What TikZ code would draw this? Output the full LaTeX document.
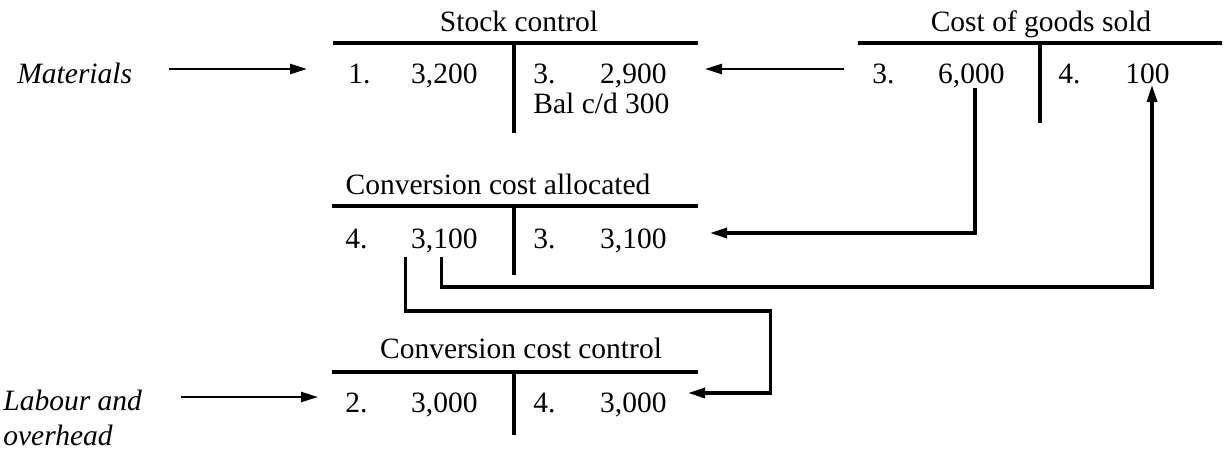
\documentclass[tikz,border=0pt]{standalone}
\usepackage{fontspec}
\setmainfont{Liberation Serif}
\usepackage{tikz}
\usetikzlibrary{arrows.meta}

\begin{document}
\begin{tikzpicture}[x=0.5pt,y=-0.5pt,
	every node/.style={inner sep=0pt,font=\fontsize{14.75}{17.7}\selectfont},
	entry/.style={anchor=base west},
	amount/.style={anchor=base east},
	title/.style={anchor=base},
	source/.style={anchor=base west,font=\fontsize{14.75}{17.7}\selectfont\itshape},
	tline/.style={line width=2pt},
	flow/.style={line width=1.2pt,-{Triangle[length=8.5pt,width=5pt]}},
	route/.style={line width=1.6pt,-{Triangle[length=8.5pt,width=5pt]}}]
	\useasboundingbox (0,0) rectangle (1225,450);
	% stock control
	\node[title] (tsc) at (519,31) {Stock control};
	\draw[tline] (333,43) to (698,43);
	\draw[tline] (514,43) to (514,133);
	\node[entry] (sc1) at (348,83) {1.};
	\node[amount] (sc1v) at (478,83) {3,200};
	\node[entry] (sc3) at (533,83) {3.};
	\node[amount] (sc3v) at (667,83) {2,900};
	\node[entry] (scbal) at (533,113) {Bal c/d 300};
	% cost of goods sold
	\node[title] (tcogs) at (1041,31) {Cost of goods sold};
	\draw[tline] (858,43) to (1222,43);
	\draw[tline] (1040,43) to (1040,123);
	\node[entry] (cg3) at (872,83) {3.};
	\node[amount] (cg3v) at (1005,83) {6,000};
	\node[entry] (cg4) at (1058,83) {4.};
	\node[amount] (cg4v) at (1170,83) {100};
	% conversion cost allocated
	\node[title] (tcca) at (498,194) {Conversion cost allocated};
	\draw[tline] (332,206) to (698,206);
	\draw[tline] (514,206) to (514,275);
	\node[entry] (ca4) at (345,248) {4.};
	\node[amount] (ca4v) at (478,248) {3,100};
	\node[entry] (ca3) at (533,248) {3.};
	\node[amount] (ca3v) at (667,248) {3,100};
	% conversion cost control
	\node[title] (tccc) at (521,358) {Conversion cost control};
	\draw[tline] (332,372) to (698,372);
	\draw[tline] (514,372) to (514,435);
	\node[entry] (cc2) at (345,412) {2.};
	\node[amount] (cc2v) at (478,412) {3,000};
	\node[entry] (cc4) at (533,412) {4.};
	\node[amount] (cc4v) at (667,412) {3,000};
	% inputs
	\node[source] (mat) at (17,83) {Materials};
	\node[source] (lab) at (3,410) {Labour and};
	\node[source] (ovh) at (3,445) {overhead};
	\draw[flow] ([shift={(36,-14)}]mat.base east) to ([shift={(-41,-14)}]sc1.base west);
	\draw[flow] ([shift={(39,-13)}]lab.base east) to ([shift={(-27,-15)}]cc2.base west);
	\draw[flow] ([shift={(-28,-14)}]cg3.base west) to ([shift={(38,-14)}]sc3v.base east);
	\draw[route] ([shift={(-30,5)}]cg3v.base east) |- ([shift={(43,-15)}]ca3v.base east);
	\draw[route] ([shift={(31,9)}]ca4v.base west) -- ++(0,30) -| ([shift={(-18,2)}]cg4v.base east);
	\draw[route] ([shift={(-5,9)}]ca4v.base west) -- ++(0,54) -- ++(365,0) |- ([shift={(21,-19)}]cc4v.base east);
\end{tikzpicture}
\end{document}
